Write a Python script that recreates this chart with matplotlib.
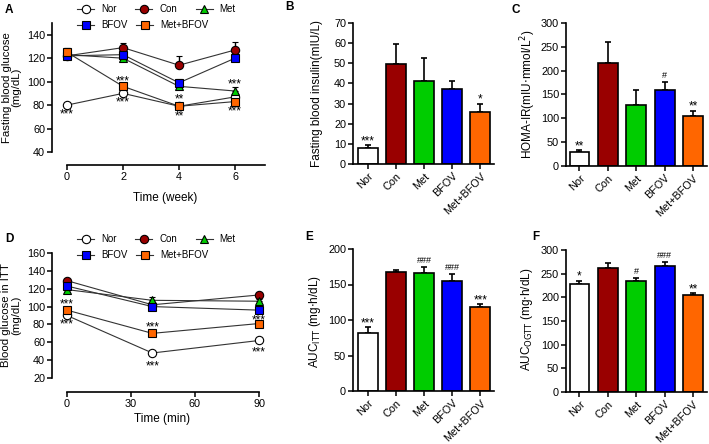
import numpy as np
import matplotlib.pyplot as plt
from matplotlib.lines import Line2D

plt.rcParams['font.family'] = ['Liberation Sans', 'DejaVu Sans']

groups = ['Nor', 'Con', 'Met', 'BFOV', 'Met+BFOV']
colors = ['white', '#990000', '#00CC00', '#0000FF', '#FF6600']
markers = ['o', 'o', '^', 's', 's']

# A: fasting blood glucose over weeks
weeks = [0, 2, 4, 6]
fbg_nor = [80, 90, 79, 87]
fbg_con = [122, 129, 114, 127]
fbg_met = [123, 120, 96, 92]
fbg_bfov = [122, 123, 99, 120]
fbg_mb = [125, 96, 79, 83]
fbg_err_nor = [1, 1, 1, 2]
fbg_err_con = [7, 4, 8, 7]
fbg_err_met = [2, 2, 2, 3]
fbg_err_bfov = [2, 2, 3, 2]
fbg_err_mb = [4, 2, 1, 2]

# D: ITT blood glucose
itt_min = [0, 40, 90]
itt_nor = [90, 48, 62]
itt_con = [129, 102, 113]
itt_met = [119, 107, 106]
itt_bfov = [123, 100, 96]
itt_mb = [96, 70, 81]
itt_err_nor = [1, 1, 1]
itt_err_con = [2, 2, 1]
itt_err_met = [2, 4, 2]
itt_err_bfov = [2, 2, 2]
itt_err_mb = [1, 2, 2]

# bar panels
insulin = [8, 49.5, 41, 37, 26]
insulin_err = [1.5, 10, 11.5, 4, 4]
insulin_marks = ['***', '', '', '', '*']

homa = [29, 217, 128, 160, 104]
homa_err = [4, 43, 31, 17, 12]
homa_marks = ['**', '', '', '#', '**']

auc_itt = [82, 167, 166, 155, 118]
auc_itt_err = [8, 4, 8, 10, 4]
auc_itt_marks = ['***', '', '###', '###', '***']

auc_ogtt = [229, 262, 234, 266, 204]
auc_ogtt_err = [6, 11, 7, 9, 5]
auc_ogtt_marks = ['*', '', '#', '###', '**']

W, H = 709, 444
fig = plt.figure(figsize=(W / 100, H / 100), dpi=100)


def rect(x0, y0, x1, y1):
    return [x0 / W, 1 - y1 / H, (x1 - x0) / W, (y1 - y0) / H]


def style(ax):
    for s in ['top', 'right']:
        ax.spines[s].set_visible(False)
    for s in ['left', 'bottom']:
        ax.spines[s].set_linewidth(1.2)
    ax.tick_params(direction='out', length=3.5, width=1.1, labelsize=7.8, pad=1.5)


def mark_text(ax, x, y, m):
    # stars drawn bigger than hashes, as in the figure
    if '#' in m:
        ax.text(x, y, m, ha='center', va='center', fontsize=6.5, zorder=10)
    else:
        ax.text(x, y, m, ha='center', va='center', fontsize=8.5, zorder=10)


def line_panel(ax, x, series, errs, xlim, ylim, yticks, xticks, offset):
    style(ax)
    for i in range(5):
        ax.errorbar(x, series[i], yerr=[np.zeros(len(x)), errs[i]], color='#333333',
                    lw=0.8, marker=markers[i], ms=6, mfc=colors[i], mec='black', mew=0.8,
                    ecolor='black', elinewidth=1.0, capsize=2, capthick=1.0,
                    clip_on=False, zorder=3 + i)
    ax.set_xlim(*xlim)
    ax.set_ylim(*ylim)
    ax.set_yticks(yticks)
    ax.set_xticks(xticks)
    ax.spines['bottom'].set_position(('outward', offset))
    ax.spines['bottom'].set_bounds(xticks[0], xlim[1])


def legend_rows(y1, y2):
    hs = [Line2D([], [], color='#333333', lw=0.8, marker=markers[i], ms=6,
                 mfc=colors[i], mec='black', mew=0.8) for i in range(5)]
    kw = dict(loc='center left', frameon=False, fontsize=7, borderpad=0,
              borderaxespad=0, handlelength=1.75, handletextpad=0.7)
    fig.legend(hs[:3], groups[:3], ncol=3, columnspacing=1.95,
               bbox_to_anchor=(77 / W, 1 - y1 / H), **kw)
    fig.legend(hs[3:], groups[3:], ncol=2, columnspacing=0.95,
               bbox_to_anchor=(77 / W, 1 - y2 / H), **kw)


def bar_panel(ax, vals, errs, marks, ymax, step, xlim):
    style(ax)
    x = np.arange(5)
    ax.bar(x, vals, width=0.7, color=colors, edgecolor='black', linewidth=1.2, zorder=2)
    ax.errorbar(x, vals, yerr=[np.zeros(5), errs], fmt='none', ecolor='black',
                elinewidth=1.2, capsize=2.5, capthick=1.2, zorder=1)
    for xi, v, e, m in zip(x, vals, errs, marks):
        if not m:
            continue
        if '#' in m:
            ax.annotate(m, (xi, v + e), xytext=(0, 1.5), textcoords='offset points',
                        ha='center', va='bottom', fontsize=6.5)
        else:
            ax.annotate(m, (xi, v + e), xytext=(0, -1.5), textcoords='offset points',
                        ha='center', va='bottom', fontsize=8.5)
    ax.set_xlim(*xlim)
    ax.set_ylim(0, ymax)
    ax.set_yticks(np.arange(0, ymax + 1, step))
    ax.set_xticks(x)
    ax.set_xticklabels(groups, rotation=45, ha='right', rotation_mode='anchor')


# Panel A
axA = fig.add_axes(rect(52, 23, 265, 152))
line_panel(axA, weeks, [fbg_nor, fbg_con, fbg_met, fbg_bfov, fbg_mb],
           [fbg_err_nor, fbg_err_con, fbg_err_met, fbg_err_bfov, fbg_err_mb],
           (-0.536, 7.07), (40, 150), np.arange(40, 141, 20), weeks, 9.4)
axA.set_ylabel('Fasting blood glucose\n(mg/dL)', fontsize=8.2, linespacing=0.95)
axA.yaxis.set_label_coords(-0.145, 0.5)
axA.set_xlabel('Time (week)', fontsize=8.5)
axA.xaxis.set_label_coords(0.53, -0.31)
for x, y, m in [(0, 72, '***'), (2, 100, '***'), (2, 82, '***'), (4, 85, '**'),
                (4, 70, '**'), (6, 98, '***'), (6, 75, '***')]:
    mark_text(axA, x, y, m)
legend_rows(9, 25)

# Panel D
axD = fig.add_axes(rect(52, 253, 259, 378))
line_panel(axD, itt_min, [itt_nor, itt_con, itt_met, itt_bfov, itt_mb],
           [itt_err_nor, itt_err_con, itt_err_met, itt_err_bfov, itt_err_mb],
           (-7.03, 90), (20, 160), np.arange(20, 161, 20), [0, 30, 60, 90], 10)
axD.set_ylabel('Blood glucose in ITT\n(mg/dL)', fontsize=8.2, linespacing=0.95)
axD.yaxis.set_label_coords(-0.15, 0.5)
axD.set_xlabel('Time (min)', fontsize=8.5)
axD.xaxis.set_label_coords(0.53, -0.28)
for x, y, m in [(0, 102, '***'), (0, 80, '***'), (40, 77, '***'), (40, 33, '***'),
                (90, 85, '***'), (90, 49, '***')]:
    mark_text(axD, x, y, m)
legend_rows(239, 255)

# Panel B
axB = fig.add_axes(rect(353, 23, 494, 164))
bar_panel(axB, insulin, insulin_err, insulin_marks, 70, 10, (-0.53, 4.49))
axB.set_ylabel('Fasting blood insulin(mIU/L)', fontsize=8.5)
axB.yaxis.set_label_coords(-0.213, 0.5)

# Panel C
axC = fig.add_axes(rect(566, 23, 707, 166))
bar_panel(axC, homa, homa_err, homa_marks, 300, 50, (-0.475, 4.49))
axC.set_ylabel(r'HOMA-IR(mIU$\cdot$mmol/L$^2$)', fontsize=8.5)
axC.yaxis.set_label_coords(-0.2, 0.5)

# Panel E
axE = fig.add_axes(rect(353, 249, 494, 391))
bar_panel(axE, auc_itt, auc_itt_err, auc_itt_marks, 200, 50, (-0.53, 4.49))
axE.set_ylabel(r'AUC$_{\mathrm{ITT}}$ (mg$\cdot$h/dL)', fontsize=8.5)
axE.yaxis.set_label_coords(-0.213, 0.49)

# Panel F
axF = fig.add_axes(rect(566, 250, 707, 392))
bar_panel(axF, auc_ogtt, auc_ogtt_err, auc_ogtt_marks, 300, 50, (-0.475, 4.49))
axF.set_ylabel(r'AUC$_{\mathrm{OGTT}}$ (mg$\cdot$h/dL)', fontsize=8.5)
axF.yaxis.set_label_coords(-0.22, 0.51)

for lab, x, y in [('A', 5, 10), ('B', 285, 7), ('C', 512, 10),
                  ('D', 5, 239), ('E', 305, 237), ('F', 532, 237)]:
    fig.text(x / W, 1 - y / H, lab, fontsize=8.5, fontweight='bold', va='center')

fig.savefig('out.png', dpi=100)
